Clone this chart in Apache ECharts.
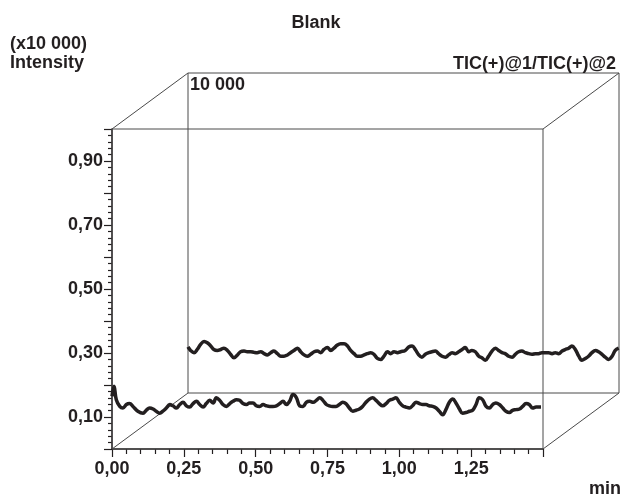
<!DOCTYPE html>
<html>
<head>
<meta charset="utf-8">
<script src="https://cdn.jsdelivr.net/npm/echarts@6/dist/echarts.min.js"></script>
<style>
html,body{margin:0;padding:0;background:#fff;}
#c{width:623px;height:499px;}
</style>
</head>
<body>
<div id="c"></div>
<script>
// ---- data (time in min, intensity in x10 000) ----
var xTicks = [0, 0.25, 0.5, 0.75, 1.0, 1.25];
var yTickLabels = [0.1, 0.3, 0.5, 0.7, 0.9];

var tic1Time = [0.000,0.007,0.015,0.027,0.038,0.050,0.061,0.073,0.090,0.108,0.119,0.131,0.143,0.154,0.166,0.177,0.189,0.201,0.212,0.224,0.236,0.247,0.259,0.270,0.282,0.294,0.305,0.317,0.328,0.340,0.352,0.363,0.375,0.386,0.398,0.410,0.421,0.433,0.444,0.456,0.468,0.479,0.491,0.502,0.514,0.526,0.537,0.549,0.560,0.572,0.584,0.595,0.607,0.618,0.630,0.642,0.653,0.665,0.676,0.688,0.700,0.711,0.723,0.734,0.746,
0.756,0.768,0.780,0.791,0.803,0.814,0.826,0.838,0.849,0.861,0.872,0.884,0.896,0.907,0.919,0.930,0.942,0.954,0.965,0.977,0.988,1.000,1.012,1.023,1.035,1.046,1.058,1.070,1.081,1.093,1.104,1.116,1.128,1.139,1.151,1.162,1.174,1.186,1.197,1.209,1.220,1.232,1.244,1.255,1.267,1.278,1.290,1.302,1.313,1.325,1.336,1.348,1.360,1.371,1.383,1.394,1.406,1.418,1.429,1.441,1.452,1.464,1.476,1.493];
var tic1Value = [0.165,0.196,0.154,0.133,0.128,0.139,0.142,0.133,0.118,0.112,0.121,0.128,0.125,0.118,0.112,0.118,0.128,0.139,0.135,0.128,0.139,0.146,0.135,0.131,0.142,0.149,0.139,0.131,0.142,0.152,0.144,0.160,0.152,0.139,0.133,0.142,0.149,0.154,0.152,0.142,0.139,0.144,0.144,0.135,0.133,0.139,0.135,0.133,0.133,0.135,0.142,0.149,0.139,0.149,0.170,0.160,0.135,0.133,0.146,0.149,0.146,0.152,0.160,0.152,0.139,
0.135,0.133,0.133,0.139,0.146,0.142,0.128,0.118,0.121,0.125,0.133,0.146,0.156,0.160,0.152,0.142,0.135,0.142,0.152,0.156,0.160,0.146,0.135,0.131,0.128,0.135,0.146,0.142,0.139,0.139,0.135,0.133,0.128,0.118,0.107,0.123,0.146,0.156,0.144,0.125,0.112,0.114,0.118,0.121,0.139,0.160,0.154,0.133,0.128,0.139,0.144,0.139,0.128,0.118,0.114,0.121,0.123,0.125,0.133,0.142,0.139,0.128,0.131,0.131];

var tic2Time = [0.000,0.009,0.021,0.032,0.044,0.056,0.067,0.079,0.090,0.102,0.114,0.125,0.137,0.148,0.160,0.172,0.183,0.195,0.206,0.218,0.230,0.241,0.253,0.265,0.276,0.288,0.299,0.311,0.323,0.334,0.346,0.357,0.369,0.381,0.392,0.404,0.415,0.427,0.439,0.450,0.462,0.473,0.485,0.497,0.508,0.520,0.531,0.543,0.555,0.566,0.578,0.589,0.601,0.613,0.624,0.636,0.647,0.659,0.671,0.682,0.694,0.705,0.717,0.729,0.740,
0.756,0.768,0.780,0.791,0.803,0.814,0.826,0.838,0.849,0.861,0.872,0.884,0.896,0.907,0.919,0.930,0.942,0.954,0.965,0.977,0.988,1.000,1.012,1.023,1.035,1.046,1.058,1.070,1.081,1.093,1.104,1.116,1.128,1.139,1.151,1.162,1.174,1.186,1.197,1.209,1.220,1.232,1.244,1.255,1.267,1.278,1.290,1.302,1.313,1.325,1.336,1.348,1.360,1.371,1.383,1.394,1.406,1.418,1.429,1.441,1.452,1.464,1.476,1.487,1.499];
var tic2Value = [0.144,0.133,0.126,0.136,0.152,0.161,0.157,0.147,0.136,0.133,0.136,0.140,0.133,0.121,0.110,0.119,0.129,0.131,0.129,0.129,0.127,0.126,0.129,0.123,0.119,0.126,0.131,0.123,0.115,0.115,0.119,0.126,0.133,0.140,0.129,0.119,0.115,0.121,0.129,0.131,0.126,0.136,0.142,0.133,0.140,0.150,0.154,0.154,0.147,0.133,0.123,0.115,0.115,0.119,0.123,0.126,0.121,0.108,0.105,0.115,0.129,0.123,0.129,0.126,0.129,
0.133,0.144,0.147,0.136,0.119,0.112,0.121,0.126,0.129,0.131,0.123,0.115,0.112,0.119,0.126,0.123,0.129,0.136,0.142,0.129,0.133,0.129,0.115,0.110,0.102,0.115,0.131,0.140,0.133,0.126,0.123,0.115,0.112,0.121,0.129,0.131,0.126,0.123,0.121,0.123,0.123,0.126,0.126,0.126,0.123,0.126,0.123,0.131,0.136,0.140,0.147,0.136,0.115,0.102,0.108,0.115,0.126,0.133,0.129,0.121,0.112,0.105,0.115,0.133,0.140];

function pairs(t, v){ var out=[]; for (var i=0;i<t.length;i++) out.push([t[i], v[i]]); return out; }

// ---- layout ----
var FONT = "'Liberation Sans', Arial, sans-serif";
var FS = 18;
var front = {left:112, top:129, width:431, height:320};
var dx = 76, dy = -56;
var back = {left:front.left+dx, top:front.top+dy, width:front.width, height:front.height};
var boxColor = '#4a4a4a';
var ink = '#231f20';

function fmt(v){ return v.toFixed(2).replace('.', ','); }

var chart = echarts.init(document.getElementById('c'), null, {renderer:'canvas'});

var txt = {fontFamily: FONT, fontWeight:'bold', fontSize:FS, fill: ink};
function T(x, y, s, align){
  return {type:'text', x:x, y:y, z:10, style: Object.assign({}, txt, {text:s, textAlign:align||'left', textVerticalAlign:'middle'})};
}
function L(x1,y1,x2,y2){
  return {type:'line', z:1, shape:{x1:x1,y1:y1,x2:x2,y2:y2}, style:{stroke:boxColor, lineWidth:1}};
}
var fR = front.left+front.width, fB = front.top+front.height;
var bR = back.left+back.width, bB = back.top+back.height;

chart.setOption({
  animation:false,
  backgroundColor:'#fff',
  grid:[
    {left:front.left, top:front.top, width:front.width, height:front.height, show:true, borderColor:boxColor, borderWidth:1, z:1},
    {left:back.left, top:back.top, width:back.width, height:back.height, show:true, borderColor:boxColor, borderWidth:1, z:1}
  ],
  xAxis:[
    {type:'value', gridIndex:0, min:0, max:1.5, interval:0.25,
     axisLine:{show:true, lineStyle:{color:ink, width:1.5}},
     axisTick:{show:true, length:8, lineStyle:{color:ink, width:1.2}},
     minorTick:{show:true, splitNumber:5, length:5, lineStyle:{color:ink, width:1.2}},
     splitLine:{show:false},
     axisLabel:{margin:11, fontFamily:FONT, fontWeight:'bold', fontSize:FS, color:ink, showMaxLabel:false,
       formatter:function(v){ return xTicks.indexOf(+v.toFixed(2))>=0 ? fmt(v) : ''; }}
    },
    {type:'value', gridIndex:1, min:0, max:1.5, show:false}
  ],
  yAxis:[
    {type:'value', gridIndex:0, min:0, max:1, interval:0.1,
     axisLine:{show:true, lineStyle:{color:ink, width:1.5}},
     axisTick:{show:true, length:8, lineStyle:{color:ink, width:1.2}},
     minorTick:{show:true, splitNumber:5, length:4, lineStyle:{color:ink, width:1.2}},
     splitLine:{show:false},
     axisLabel:{margin:9, fontFamily:FONT, fontWeight:'bold', fontSize:FS, color:ink,
       formatter:function(v){ return yTickLabels.indexOf(+v.toFixed(2))>=0 ? fmt(v) : ''; }}
    },
    {type:'value', gridIndex:1, min:0, max:1, show:false}
  ],
  series:[
    {name:'TIC(+)@1', type:'line', xAxisIndex:0, yAxisIndex:0, data:pairs(tic1Time, tic1Value),
     showSymbol:false, smooth:0.4, lineStyle:{color:ink, width:3.5}, z:5},
    {name:'TIC(+)@2', type:'line', xAxisIndex:1, yAxisIndex:1, data:pairs(tic2Time, tic2Value),
     showSymbol:false, smooth:0.4, lineStyle:{color:ink, width:3.5}, z:5}
  ],
  graphic:[
    L(front.left, front.top, back.left, back.top),
    L(fR, front.top, bR, back.top),
    L(front.left, fB, back.left, bB),
    L(fR, fB, bR, bB),
    T(316, 23, 'Blank', 'center'),
    T(10, 44, '(x10 000)'),
    T(10, 63, 'Intensity'),
    T(616, 64, 'TIC(+)@1/TIC(+)@2', 'right'),
    T(190, 85, '10 000'),
    T(589, 489, 'min')
  ]
});
</script>
</body>
</html>
